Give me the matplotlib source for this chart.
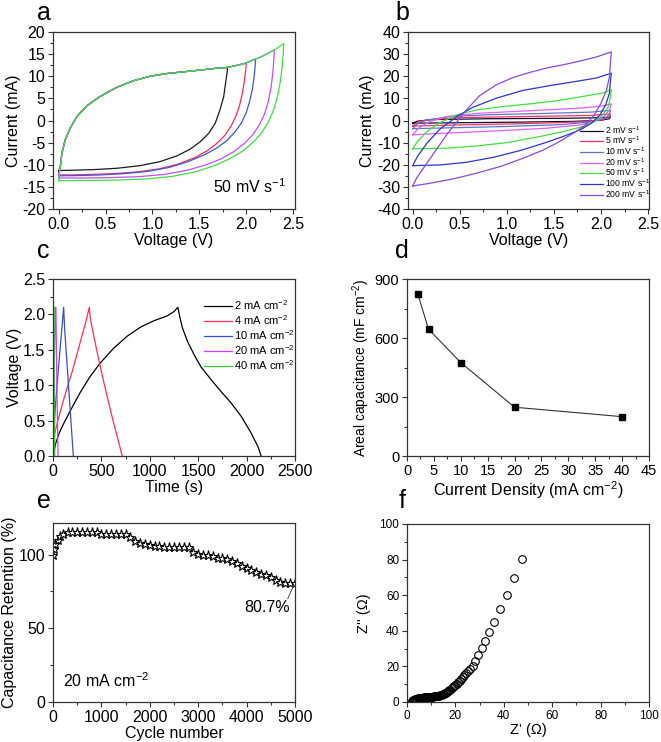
import matplotlib
matplotlib.use("Agg")
import matplotlib.pyplot as plt
from matplotlib.ticker import MultipleLocator

plt.rcParams['font.family'] = ['Liberation Sans', 'DejaVu Sans']
plt.rcParams['mathtext.fontset'] = 'custom'
plt.rcParams['mathtext.rm'] = 'Liberation Sans'
plt.rcParams['mathtext.it'] = 'Liberation Sans:italic'
plt.rcParams['mathtext.bf'] = 'Liberation Sans:bold'
plt.rcParams['axes.unicode_minus'] = False

# ---------------- Panel a data (CV at 50 mV/s, different windows) -------------
a_windows = [1.8, 2.0, 2.1, 2.3, 2.4]
a_colors = ['#1a1a1a', '#ff2a55', '#3a55e0', '#c24cff', '#3ee03e']
a_start_i = [-11.5, -12.3, -12.5, -13.0, -13.6]
a_anodic_v = [0.018, 0.035, 0.07, 0.124, 0.195, 0.30, 0.44, 0.62, 0.80, 0.975, 1.15,
              1.33, 1.51, 1.68, 1.8, 1.93, 2.0, 2.04, 2.1, 2.15, 2.25, 2.3, 2.32, 2.4]
a_anodic_i = [-10.4, -7.4, -4.4, -1.7, 0.9, 3.3, 5.4, 7.5, 9.0, 10.0, 10.6,
              11.0, 11.4, 11.8, 12.0, 12.6, 13.0, 13.4, 13.9, 14.3, 15.4, 16.0, 16.2, 17.4]
a_cath_v = [
    [1.798, 1.78, 1.76, 1.72, 1.67, 1.60, 1.51, 1.40, 1.26, 1.08, 0.87, 0.62, 0.37,
     0.124, 0.01],
    [1.995, 1.98, 1.96, 1.93, 1.89, 1.84, 1.77, 1.68, 1.58, 1.45, 1.28, 1.08, 0.85,
     0.6, 0.35, 0.12, 0.01],
    [2.095, 2.085, 2.065, 2.035, 2.0, 1.95, 1.88, 1.79, 1.68, 1.55, 1.38, 1.18, 0.95,
     0.7, 0.45, 0.2, 0.01],
    [2.295, 2.285, 2.265, 2.235, 2.195, 2.14, 2.07, 1.98, 1.87, 1.73, 1.56, 1.36, 1.12,
     0.85, 0.55, 0.25, 0.01],
    [2.395, 2.385, 2.365, 2.335, 2.295, 2.24, 2.17, 2.08, 1.97, 1.83, 1.66, 1.46, 1.22,
     0.95, 0.65, 0.3, 0.01],
]
a_cath_i = [
    [11.1, 8.5, 5.4, 2.4, -0.6, -2.9, -4.8, -6.5, -8.0, -9.3, -10.2, -10.8, -11.1,
     -11.25, -11.3],
    [11.5, 9.0, 6.3, 3.5, 1.0, -1.2, -3.4, -5.3, -6.9, -8.4, -9.8, -10.9, -11.6,
     -12.0, -12.2, -12.3, -12.3],
    [12.3, 10.0, 7.0, 4.2, 1.8, -0.5, -2.6, -4.6, -6.3, -7.8, -9.3, -10.6, -11.5,
     -12.0, -12.3, -12.45, -12.5],
    [14.0, 11.0, 7.5, 4.3, 1.5, -1.0, -3.2, -5.2, -7.0, -8.7, -10.1, -11.3, -12.2,
     -12.7, -12.9, -13.0, -13.0],
    [15.2, 12.5, 9.0, 5.6, 2.6, -0.2, -2.6, -4.8, -6.8, -8.6, -10.2, -11.6, -12.6,
     -13.2, -13.45, -13.55, -13.6],
]

# ---------------- Panel b data (CV at different scan rates) -------------------
b_labels = ['2 mV s$^{-1}$', '5 mV s$^{-1}$', '10 mV s$^{-1}$', '20 mV s$^{-1}$',
            '50 mV s$^{-1}$', '100 mV s$^{-1}$', '200 mV s$^{-1}$']
b_colors = ['#101030', '#ff3060', '#5a78c8', '#e060ff', '#40e040', '#2838d0', '#8a4ad8']
b_up_v = [
    [0.0, 0.05, 0.2, 0.8, 1.6, 2.05, 2.1],
    [0.0, 0.05, 0.15, 0.5, 1.2, 1.9, 2.1],
    [0.0, 0.05, 0.15, 0.4, 0.8, 1.4, 1.9, 2.1],
    [0.0, 0.06, 0.18, 0.36, 0.71, 1.24, 1.78, 2.02, 2.11],
    [0.0, 0.05, 0.15, 0.29, 0.47, 0.68, 0.96, 1.24, 1.53, 1.81, 2.02, 2.11],
    [0.0, 0.05, 0.15, 0.29, 0.47, 0.64, 0.89, 1.17, 1.46, 1.74, 1.95, 2.11],
    [0.0, 0.04, 0.18, 0.36, 0.54, 0.71, 0.89, 1.07, 1.24, 1.42, 1.60, 1.78, 1.95, 2.11],
]
b_up_i = [
    [-1.2, -0.3, 0.4, 0.8, 1.0, 1.3, 1.7],
    [-2.5, -0.8, 0.3, 1.3, 1.8, 2.3, 3.0],
    [-3.7, -1.5, 0.2, 1.8, 2.6, 3.2, 3.8, 4.6],
    [-6.5, -3.5, -0.5, 1.8, 3.3, 4.4, 5.6, 6.6, 7.5],
    [-12.8, -9.5, -5.0, -0.9, 2.6, 4.8, 6.3, 7.5, 8.9, 10.9, 12.4, 13.9],
    [-20.4, -16.3, -10.3, -3.9, 1.8, 6.0, 10.1, 13.6, 15.8, 17.7, 19.2, 21.4],
    [-29.6, -26.1, -17.5, -6.5, 3.3, 11.2, 16.2, 19.5, 21.7, 23.7, 25.2, 26.9, 28.7, 31.0],
]
b_dn_v = [
    [2.09, 2.0, 1.7, 1.0, 0.3, 0.0],
    [2.09, 2.0, 1.8, 1.2, 0.5, 0.0],
    [2.09, 2.03, 1.9, 1.6, 1.0, 0.4, 0.0],
    [2.09, 2.04, 1.95, 1.78, 1.42, 0.89, 0.36, 0.0],
    [2.10, 2.08, 2.02, 1.93, 1.81, 1.60, 1.32, 1.00, 0.68, 0.36, 0.0],
    [2.10, 2.09, 2.05, 1.99, 1.90, 1.78, 1.60, 1.39, 1.14, 0.86, 0.57, 0.29, 0.0],
    [2.10, 2.09, 2.06, 2.00, 1.93, 1.85, 1.72, 1.56, 1.39, 1.17, 0.93, 0.68, 0.43, 0.18,
     0.0],
]
b_dn_i = [
    [0.8, 0.1, -0.4, -0.8, -1.1, -1.2],
    [1.5, 0.3, -0.6, -1.4, -2.0, -2.5],
    [2.5, 0.8, -0.6, -1.8, -2.7, -3.3, -3.7],
    [4.8, 2.1, 0.0, -2.0, -3.5, -4.7, -5.7, -6.5],
    [10.9, 6.3, 2.6, -0.5, -2.7, -5.0, -7.5, -10.0, -11.5, -12.5, -12.8],
    [17.7, 12.4, 7.1, 2.6, -1.2, -4.2, -7.2, -10.3, -13.6, -16.6, -18.9, -20.1, -20.4],
    [26.0, 19.9, 13.9, 7.8, 2.6, -1.5, -5.4, -9.5, -13.3, -17.1, -20.8, -23.8, -26.4,
     -28.4, -29.6],
]

# ---------------- Panel c data (GCD) ------------------------------------------
c_labels = ['2 mA cm$^{-2}$', '4 mA cm$^{-2}$', '10 mA cm$^{-2}$', '20 mA cm$^{-2}$',
            '40 mA cm$^{-2}$']
c_colors = ['#000000', '#ff3055', '#3a4ec8', '#d040ff', '#30d030']
c_t = [
    [0, 7, 28, 69, 122, 191, 278, 382, 486, 625, 764, 903, 1042, 1181, 1250, 1290,
     1309, 1337, 1389, 1458, 1528, 1632, 1736, 1840, 1944, 2049, 2118, 2150],
    [0, 15, 50, 100, 150, 200, 250, 300, 340, 375, 385, 420, 470, 520, 570, 620, 670,
     715],
    [0, 10, 30, 60, 85, 110, 120, 150, 180, 210],
    [0, 12, 25, 30, 40, 52],
    [0, 4, 8, 12, 18],
]
c_v = [
    [0.0, 0.04, 0.18, 0.34, 0.49, 0.67, 0.89, 1.12, 1.31, 1.52, 1.69, 1.82, 1.91, 1.98,
     2.04, 2.1, 1.97, 1.81, 1.62, 1.43, 1.26, 1.08, 0.91, 0.75, 0.56, 0.32, 0.13, 0.0],
    [0.05, 0.3, 0.5, 0.75, 0.98, 1.2, 1.45, 1.7, 1.9, 2.1, 1.95, 1.7, 1.38, 1.07, 0.78,
     0.5, 0.24, 0.0],
    [0.05, 0.4, 0.8, 1.3, 1.7, 2.1, 1.8, 1.2, 0.6, 0.0],
    [0.05, 1.2, 2.1, 2.1, 1.0, 0.0],
    [0.0, 1.1, 2.1, 1.2, 0.0],
]

# ---------------- Panel d data -----------------------------------------------
d_current = [2, 4, 10, 20, 40]
d_cap = [825, 645, 475, 248, 200]

# ---------------- Panel e data -----------------------------------------------
e_cycle = [0, 25, 50, 100, 150, 200, 300, 400, 500, 600, 700, 800, 900, 1000, 1100,
           1200, 1300, 1400, 1500, 1600, 1700, 1800, 1900, 2000, 2100, 2200, 2300,
           2400, 2500, 2600, 2700, 2800, 2900, 3000, 3100, 3200, 3300, 3400, 3500,
           3600, 3700, 3800, 3900, 4000, 4100, 4200, 4300, 4400, 4500, 4600, 4700,
           4800, 4900, 5000]
e_ret = [100, 104, 107, 110, 112.5, 114, 115, 115, 115, 115, 115, 115, 115, 114, 114,
         114, 114, 114, 114, 112, 109.5, 108, 107, 106.5, 106, 105.5, 105, 105, 105,
         105, 105, 105, 102, 100.5, 100, 99.5, 99, 98, 97.5, 97, 95.5, 94, 92, 91,
         89.5, 88.5, 87, 86, 84.5, 82.5, 81.5, 81, 80.8, 80.7]

# ---------------- Panel f data (Nyquist) -------------------------------------
f_zre = [2.0, 2.2, 2.4, 2.6, 2.9, 3.2, 3.5, 3.8, 4.1, 4.5, 4.9, 5.3, 5.7, 6.1, 6.5,
         6.9, 7.3, 7.7, 8.1, 8.5, 8.9, 9.3, 9.7, 10.1, 10.5, 10.9, 11.3, 11.7, 12.1,
         12.5, 12.9, 13.3, 13.7, 14.1, 14.5, 14.9, 15.3, 15.7, 16.1, 16.5, 16.9, 17.4,
         17.9, 18.4, 18.9, 19.4, 19.9, 20.5, 21.1, 21.7, 22.3, 23.0, 23.7, 24.4, 25.2,
         26.0, 27.1, 28.3, 29.5, 30.8, 32.2, 34.0, 36.1, 38.5, 41.2, 44.2, 47.7]
f_zim = [0.1, 0.4, 0.7, 0.9, 1.1, 1.3, 1.5, 1.7, 1.8, 2.0, 2.1, 2.2, 2.3, 2.4, 2.5,
         2.55, 2.6, 2.65, 2.7, 2.75, 2.8, 2.85, 2.9, 2.95, 3.0, 3.05, 3.1, 3.2, 3.3,
         3.4, 3.5, 3.6, 3.75, 3.9, 4.1, 4.3, 4.6, 4.9, 5.2, 5.6, 6.0, 6.5, 7.0, 7.6,
         8.2, 8.8, 9.5, 10.3, 11.1, 12.0, 12.9, 13.9, 15.0, 16.1, 17.4, 18.7, 20.3,
         23.0, 26.3, 30.1, 34.4, 39.2, 45.2, 52.3, 60.2, 69.6, 80.3]

# ============================================================================
W, H = 661, 742
fig = plt.figure(figsize=(W / 100, H / 100), dpi=100)


def make_ax(left, right, top, bottom):
    return fig.add_axes([left / W, 1 - bottom / H, (right - left) / W, (bottom - top) / H])


def style(ax, tick_fs=11.5):
    for s in ax.spines.values():
        s.set_linewidth(0.9)
        s.set_color('#333333')
    ax.tick_params(which='both', direction='out', top=False, right=False,
                   labelsize=tick_fs, width=0.8, color='#333333', pad=2)
    ax.tick_params(which='major', length=3.5)
    ax.tick_params(which='minor', length=2)


LW = 0.9
LAB = 11.5

# ---- a
ax = make_ax(53, 295, 32, 209)
style(ax)
for k, vmax in enumerate(a_windows):
    xs = [0.0] + [v for v in a_anodic_v if v < vmax - 1e-9]
    ys = [a_start_i[k]] + [i for v, i in zip(a_anodic_v, a_anodic_i) if v < vmax - 1e-9]
    vi = [i for v, i in zip(a_anodic_v, a_anodic_i) if abs(v - vmax) < 1e-9][0]
    xs += [vmax] + a_cath_v[k] + [0.0]
    ys += [vi] + a_cath_i[k] + [a_start_i[k]]
    ax.plot(xs, ys, color=a_colors[k], lw=LW)
ax.set_xlim(-0.06, 2.52)
ax.set_ylim(-20, 20)
ax.xaxis.set_major_locator(MultipleLocator(0.5))
ax.xaxis.set_minor_locator(MultipleLocator(0.25))
ax.yaxis.set_major_locator(MultipleLocator(5))
ax.yaxis.set_minor_locator(MultipleLocator(2.5))
ax.xaxis.set_major_formatter(plt.FormatStrFormatter('%.1f'))
ax.set_xlabel('Voltage (V)', fontsize=LAB, labelpad=1)
ax.set_ylabel('Current (mA)', fontsize=LAB, labelpad=1)
ax.text(1.65, -16.4, '50 mV s$^{-1}$', fontsize=11.5, va='baseline')

# ---- b
ax = make_ax(407.7, 649, 32, 209)
style(ax)
for k in range(len(b_labels)):
    xs = b_up_v[k] + b_dn_v[k]
    ys = b_up_i[k] + b_dn_i[k]
    ax.plot(xs, ys, color=b_colors[k], lw=LW, label=b_labels[k])
ax.set_xlim(-0.053, 2.51)
ax.set_ylim(-40, 40)
ax.xaxis.set_major_locator(MultipleLocator(0.5))
ax.xaxis.set_minor_locator(MultipleLocator(0.25))
ax.yaxis.set_major_locator(MultipleLocator(10))
ax.yaxis.set_minor_locator(MultipleLocator(5))
ax.xaxis.set_major_formatter(plt.FormatStrFormatter('%.1f'))
ax.set_xlabel('Voltage (V)', fontsize=LAB, labelpad=1)
ax.set_ylabel('Current (mA)', fontsize=LAB, labelpad=1)
ax.legend(loc='upper left', bbox_to_anchor=(0.715, 0.48), frameon=False, fontsize=6.2,
          borderpad=0, borderaxespad=0, handlelength=2.6, handletextpad=0.3,
          labelspacing=-0.12)

# ---- c
ax = make_ax(53, 295, 279, 456)
style(ax)
for k in range(len(c_labels)):
    ax.plot(c_t[k], c_v[k], color=c_colors[k], lw=LW, label=c_labels[k])
ax.set_xlim(0, 2500)
ax.set_ylim(0, 2.5)
ax.xaxis.set_major_locator(MultipleLocator(500))
ax.xaxis.set_minor_locator(MultipleLocator(250))
ax.yaxis.set_major_locator(MultipleLocator(0.5))
ax.yaxis.set_minor_locator(MultipleLocator(0.25))
ax.yaxis.set_major_formatter(plt.FormatStrFormatter('%.1f'))
ax.set_xlabel('Time (s)', fontsize=LAB, labelpad=1)
ax.set_ylabel('Voltage (V)', fontsize=LAB, labelpad=1)
ax.legend(loc='upper left', bbox_to_anchor=(0.625, 0.89), frameon=False, fontsize=8,
          borderpad=0, borderaxespad=0, handlelength=2.5, handletextpad=0.2,
          labelspacing=0.1)

# ---- d
ax = make_ax(407, 649, 279, 456)
style(ax, tick_fs=10.5)
ax.plot(d_current, d_cap, color='#333333', lw=0.8, marker='s', ms=4.5,
        mfc='black', mec='black')
ax.set_xlim(0, 45)
ax.set_ylim(0, 900)
ax.xaxis.set_major_locator(MultipleLocator(5))
ax.xaxis.set_minor_locator(MultipleLocator(2.5))
ax.yaxis.set_major_locator(MultipleLocator(300))
ax.yaxis.set_minor_locator(MultipleLocator(150))
ax.set_xlabel('Current Density (mA cm$^{-2}$)', fontsize=LAB, labelpad=1)
ax.set_ylabel('Areal capacitance (mF cm$^{-2}$)', fontsize=10, labelpad=2)

# ---- e
ax = make_ax(53, 295, 523, 702)
style(ax)
ax.plot(e_cycle, e_ret, color='#222222', lw=0.7, marker='*', ms=6.5, mfc='white',
        mec='black', mew=0.8)
ax.set_xlim(0, 5000)
ax.set_ylim(0, 121.4)
ax.xaxis.set_major_locator(MultipleLocator(1000))
ax.xaxis.set_minor_locator(MultipleLocator(500))
ax.yaxis.set_major_locator(MultipleLocator(50))
ax.yaxis.set_minor_locator(MultipleLocator(25))
ax.set_xlabel('Cycle number', fontsize=LAB, labelpad=1)
ax.set_ylabel('Capacitance Retention (%)', fontsize=LAB, labelpad=1)
ax.text(4420, 64, '80.7%', fontsize=11.5, ha='center', va='center')
ax.annotate('', xy=(4980, 79.5), xytext=(4850, 70),
            arrowprops=dict(arrowstyle='-', color='#555555', lw=0.7,
                            shrinkA=0, shrinkB=0))
ax.text(207, 10.2, '20 mA cm$^{-2}$', fontsize=11.5, va='baseline')

# ---- f
ax = make_ax(407, 649, 524, 702)
style(ax, tick_fs=8.5)
ax.plot(f_zre, f_zim, ls='none', marker='o', ms=5.5, mfc='none', mec='black', mew=0.8)
ax.set_xlim(0, 100)
ax.set_ylim(0, 100)
ax.xaxis.set_major_locator(MultipleLocator(20))
ax.xaxis.set_minor_locator(MultipleLocator(10))
ax.yaxis.set_major_locator(MultipleLocator(20))
ax.yaxis.set_minor_locator(MultipleLocator(10))
ax.set_xlabel("Z' (Ω)", fontsize=10.5, labelpad=1)
ax.set_ylabel("Z'' (Ω)", fontsize=10.5, labelpad=6)

# panel letters
for letter, x, y in [('a', 37, 20), ('b', 395, 20), ('c', 37, 258), ('d', 395, 258),
                     ('e', 37, 508), ('f', 399, 508)]:
    fig.text(x / W, 1 - y / H, letter, fontsize=18, va='baseline', ha='left')

fig.savefig('out.png', dpi=100)
